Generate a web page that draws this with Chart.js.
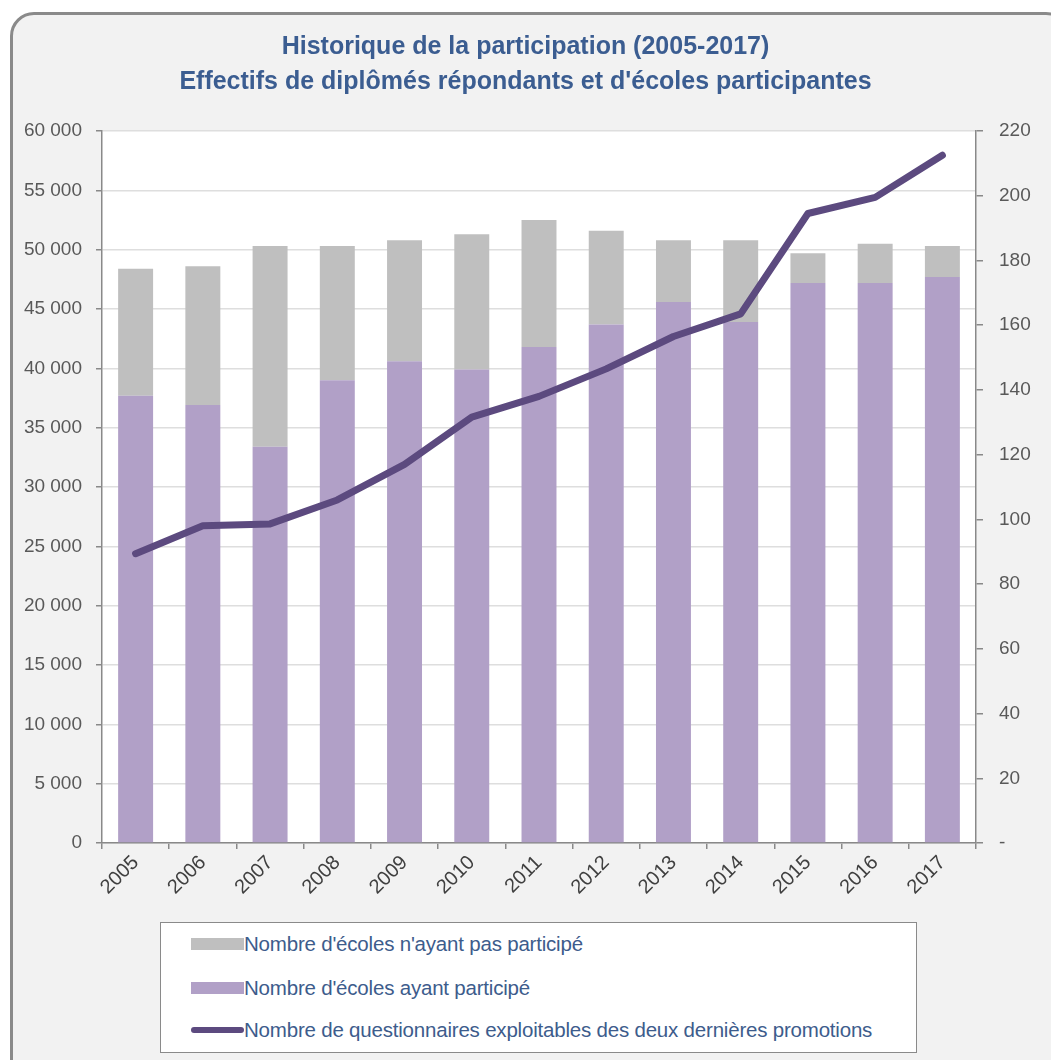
<!DOCTYPE html>
<html lang="fr">
<head>
<meta charset="utf-8">
<script src="https://cdn.jsdelivr.net/npm/chart.js@4.4.1/dist/chart.umd.min.js"></script>
<style>
  html, body { margin: 0; padding: 0; background: #ffffff; overflow: hidden; }
  body { width: 1051px; height: 1060px; position: relative; font-family: 'Liberation Sans Narrow', 'Arial Narrow', 'Liberation Sans', sans-serif; }
  .card {
    position: absolute; left: 10px; top: 12px; width: 1060px; height: 1080px;
    background: #f2f2f2; border: 3px solid #8a8a8a; border-radius: 24px; box-sizing: border-box;
  }
  .chart-container { position: absolute; left: 0; top: 0; width: 1051px; height: 915px; }
  .legend {
    position: absolute; left: 160px; top: 922px; width: 757px; height: 131px;
    background: #ffffff; border: 1px solid #8a8a8a; box-sizing: border-box;
  }
  .legend-item { position: absolute; left: 30px; height: 24px; display: flex; align-items: center; }
  .legend-swatch { width: 53px; height: 12px; flex: none; }
  .legend-swatch.line { height: 6px; border-radius: 3px; }
  .legend-label { font-size: 20.5px; color: #3d5c8c; white-space: nowrap; letter-spacing: -0.2px; }
</style>
</head>
<body>
<div class="card"></div>
<div class="chart-container"><canvas id="chart"></canvas></div>
<div class="legend" id="legend"></div>
<script>
const annees = ['2005', '2006', '2007', '2008', '2009', '2010', '2011', '2012', '2013', '2014', '2015', '2016', '2017']
const ecolesParticipe = [37700, 36900, 33400, 39000, 40600, 39900, 41800, 43700, 45600, 43900, 47200, 47200, 47700]
const ecolesNonParticipe = [10700, 11700, 16900, 11300, 10200, 11400, 10700, 7900, 5200, 6900, 2500, 3300, 2600]
const questionnaires = [89.4, 98, 98.6, 106, 117, 131.6, 138, 146.5, 156.5, 163.5, 194.5, 199.5, 212.5]

const labelNonParticipe = "Nombre d'écoles n'ayant pas participé"
const labelParticipe = "Nombre d'écoles ayant participé"
const labelQuestionnaires = "Nombre de questionnaires exploitables des deux dernières promotions"

const narrow = "'Liberation Sans Narrow', 'Arial Narrow', 'Liberation Sans', sans-serif"
const axisGrey = '#898989'

const plotBackground = {
  id: 'plotBackground',
  beforeDraw(chart) {
    const { ctx, chartArea } = chart
    ctx.save()
    ctx.fillStyle = '#ffffff'
    ctx.fillRect(chartArea.left, chartArea.top, chartArea.right - chartArea.left, chartArea.bottom - chartArea.top)
    ctx.restore()
  }
}

const formatMilliers = v => String(v).replace(/\B(?=(\d{3})+(?!\d))/g, ' ')

const chartConfig = {
  type: 'bar',
  data: {
    labels: annees,
    datasets: [
      {
        label: labelNonParticipe,
        data: ecolesNonParticipe,
        backgroundColor: '#bfbfbf',
        yAxisID: 'y',
        order: 2
      },
      {
        label: labelParticipe,
        data: ecolesParticipe,
        backgroundColor: '#b1a0c7',
        yAxisID: 'y',
        order: 1
      },
      {
        type: 'line',
        label: labelQuestionnaires,
        data: questionnaires,
        borderColor: '#5c4a7f',
        backgroundColor: '#5c4a7f',
        borderWidth: 7,
        borderCapStyle: 'round',
        borderJoinStyle: 'round',
        pointRadius: 0,
        tension: 0,
        yAxisID: 'y2',
        order: 0
      }
    ]
  },
  options: {
    responsive: true,
    maintainAspectRatio: false,
    animation: false,
    datasets: {
      bar: { barPercentage: 0.52, categoryPercentage: 1 }
    },
    layout: { padding: { left: 0, right: 0, top: 0, bottom: 0 } },
    plugins: {
      legend: { display: false },
      tooltip: { enabled: false },
      title: {
        display: true,
        text: ['Historique de la participation (2005-2017)', "Effectifs de diplômés répondants et d'écoles participantes"],
        color: '#3b5d91',
        font: { family: narrow, size: 25, weight: 'bold', lineHeight: 1.4 },
        padding: { top: 30, bottom: 31 }
      }
    },
    scales: {
      x: {
        stacked: true,
        afterFit: scale => { scale.height = 72 },
        border: { color: axisGrey, width: 1.5 },
        grid: { drawOnChartArea: false, offset: true, tickLength: 6, tickColor: axisGrey, lineWidth: 1.5 },
        ticks: { color: '#404040', font: { family: narrow, size: 20 }, minRotation: 45, maxRotation: 45, padding: 2 }
      },
      y: {
        stacked: true,
        position: 'left',
        min: 0,
        max: 60000,
        afterFit: scale => { scale.width = 102 },
        border: { color: axisGrey, width: 1.5 },
        grid: { color: '#dedede', lineWidth: 1.5, tickLength: 6, tickColor: axisGrey },
        ticks: {
          stepSize: 5000,
          color: '#595959',
          padding: 14,
          font: { family: narrow, size: 19 },
          callback: v => formatMilliers(v)
        }
      },
      y2: {
        position: 'right',
        min: 0,
        max: 220,
        afterFit: scale => { scale.width = 75 },
        border: { color: axisGrey, width: 1.5 },
        grid: { drawOnChartArea: false, tickLength: 7, tickColor: axisGrey, lineWidth: 1.5 },
        ticks: {
          stepSize: 20,
          color: '#595959',
          padding: 16,
          font: { family: narrow, size: 19 },
          callback: v => (v === 0 ? '-' : v)
        }
      }
    }
  },
  plugins: [plotBackground]
}

new Chart(document.getElementById('chart'), chartConfig)

// legend, in the reference's order
const legendItems = [
  { label: labelNonParticipe, color: '#bfbfbf', line: false, top: 9 },
  { label: labelParticipe, color: '#b1a0c7', line: false, top: 53 },
  { label: labelQuestionnaires, color: '#5c4a7f', line: true, top: 95 }
]
const legend = document.getElementById('legend')
legendItems.forEach(item => {
  const row = document.createElement('div')
  row.className = 'legend-item'
  row.style.top = item.top + 'px'
  const swatch = document.createElement('div')
  swatch.className = 'legend-swatch' + (item.line ? ' line' : '')
  swatch.style.background = item.color
  const text = document.createElement('span')
  text.className = 'legend-label'
  text.textContent = item.label
  row.appendChild(swatch)
  row.appendChild(text)
  legend.appendChild(row)
})
</script>
</body>
</html>
